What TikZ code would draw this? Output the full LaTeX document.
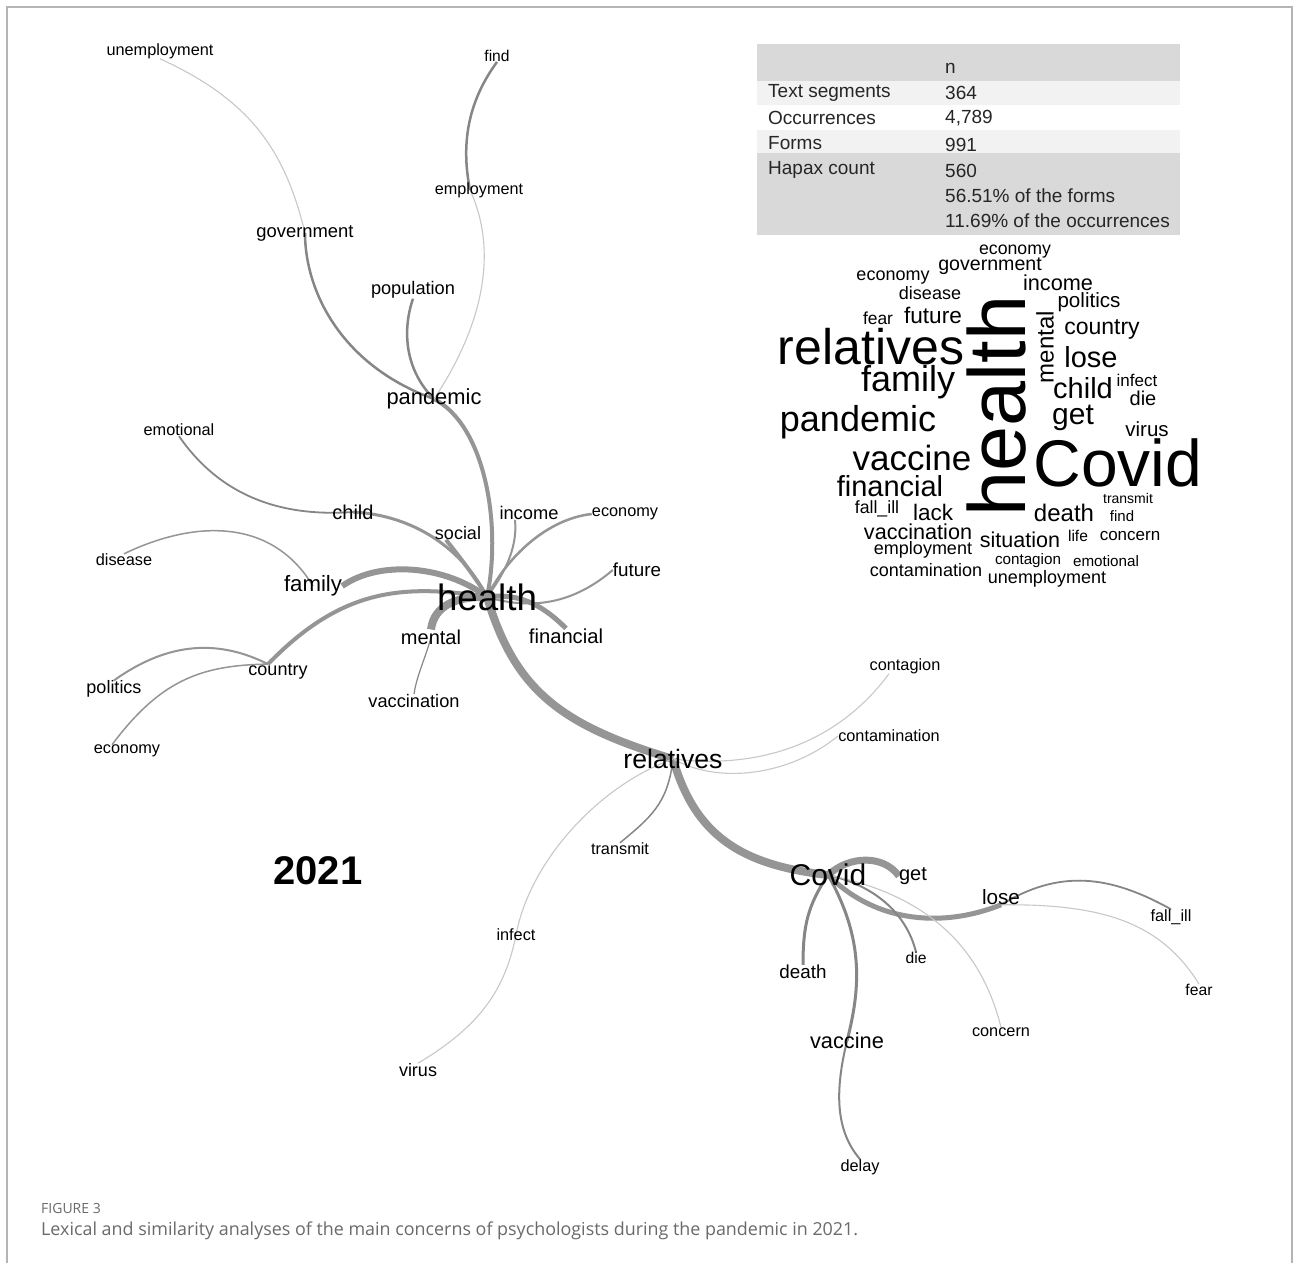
\documentclass[tikz,border=0pt]{standalone}
\usepackage{fontspec}
\setmainfont{Liberation Sans}
\newfontfamily\capfont{Open Sans}
\usetikzlibrary{backgrounds}
\definecolor{linkgray}{HTML}{959595}
\definecolor{linkdark}{HTML}{868686}
\definecolor{palegray}{HTML}{C8C8C8}
\definecolor{rowgray}{HTML}{D9D9D9}
\definecolor{rowlight}{HTML}{F2F2F2}
\definecolor{framegray}{HTML}{B4B4B4}
\definecolor{capgray}{HTML}{6A6A6A}
\newcommand\wsize[1]{\fontsize{#1}{#1}\selectfont}
\tikzset{
    %words of the tree and of the cloud
    word/.style={inner sep=0pt, font=\wsize{#1}},
    word/.default=16.3,
    cell/.style={inner sep=0pt, anchor=west, font=\wsize{19}, text=black!85},
    %links
    link/.style={draw=linkgray, line width=#1},
    link/.default=3pt,
    dim/.style={draw=linkdark, line width=#1},
    faint/.style={draw=palegray, line width=1.1pt}
}
\begin{document}
\begin{tikzpicture}[x=1pt,y=-1pt]
\useasboundingbox (0,0) rectangle (1293,1263);

% tree
\node[word] (unemp) at (160,51) {unemployment};
\node[word=15.6] (find) at (497,56) {find};
\node[word=16.2] (employ) at (479,190) {employment};
\node[word=18.4] (govt) at (305,233) {government};
\node[word=18.2] (popul) at (413,290) {population};
\node[word=21.9] (pandemic) at (434,399) {pandemic};
\node[word] (emot) at (179,430) {emotional};
\node[word=20] (child) at (353,512) {child};
\node[word=18] (social) at (458,533) {social};
\node[word=18.3] (income) at (529,513) {income};
\node[word] (econA) at (625,514) {economy};
\node[word] (disease) at (124,560) {disease};
\node[word=22.2] (family) at (313,586) {family};
\node[word=36.7] (health) at (487,597) {health};
\node[word=18.8] (future) at (637,570) {future};
\node[word=20] (mental) at (431,637) {mental};
\node[word=20.2] (financial) at (566,636) {financial};
\node[word=18] (country) at (278,672) {country};
\node[word=18] (politics) at (114,689) {politics};
\node[word=18.2] (vaccin) at (414,701) {vaccination};
\node[word] (econB) at (127,751) {economy};
\node[word] (contag) at (905,666) {contagion};
\node[word=26.6] (relatives) at (673,759) {relatives};
\node[word] (contam) at (889,736) {contamination};
\node[word] (transmit) at (620,849) {transmit};
\node[word=30] (covid) at (828,875) {Covid};
\node[word=20] (get) at (913,876) {get};
\node[word=20.7] (lose) at (1001,897) {lose};
\node[word] (fallill) at (1171,917) {fall\_ill};
\node[word] (infect) at (516,935) {infect};
\node[word=15.7] (die) at (916,958) {die};
\node[word=18.8] (death) at (803,972) {death};
\node[word=15.7] (fear) at (1199,990) {fear};
\node[word] (concern) at (1001,1032) {concern};
\node[word=21.8] (vaccine) at (847,1041) {vaccine};
\node[word=18] (virus) at (418,1070) {virus};
\node[word] (delay) at (860,1167) {delay};
\node[inner sep=0pt, font=\wsize{40}\bfseries] (year) at (318,871) {2021};

\begin{scope}[on background layer]
\fill[white] (0,0) rectangle (1293,1263);
% health
\draw[link=4pt] (pandemic.center) .. controls +(51,26) and +(15,-72) .. (health.center);
\draw[link=3pt] (child.center) .. controls +(57,3) and +(-27,-52) .. (health.center);
\draw[link=4pt] ([xshift=-12pt]social.south) .. controls +(12,15) and +(-8,-15) .. (health.center);
\draw[link=2pt] ([xshift=-14pt]income.south) .. controls +(3,30) and +(15,-20) .. (health.center);
\draw[link=2.5pt] (health.center) .. controls +(20,-40) and +(-45,5) .. (econA.west);
\draw[link=2pt] (health.center) .. controls +(50,15) and +(-35,30) .. (future.west);
\draw[link=5pt] (health.center) .. controls +(35,-5) and +(-20,-20) .. (financial.north);
\draw[link=6pt] (health.center) .. controls +(-42,-32) and +(37,-26) .. (family.east);
\draw[link=4pt] (health.center) .. controls +(-87,-14) and +(72,-74) .. ([xshift=-10pt]country.north);
\draw[link=8pt] (health.center) .. controls +(-30,-1) and +(3,-24) .. (mental.north);
\draw[link=8pt] (health.center) .. controls +(28,93) and +(-113,-34) .. (relatives.center);
\draw[dim=1.8pt] (child.center) .. controls +(-83,6) and +(36,52) .. (emot.south);
\draw[link=1.5pt] (family.center) .. controls +(-43,-71) and +(66,-32) .. (disease.north);
\draw[link=2pt] ([xshift=-10pt]country.north) .. controls +(-48,-24) and +(56,-40) .. (politics.north);
\draw[link=1.5pt] ([xshift=-10pt]country.north) .. controls +(-68,1) and +(48,-64) .. ([xshift=-15pt]econB.north);
\draw[dim=1.2pt] (mental.center) .. controls +(-5,20) and +(3,-20) .. (vaccin.north);
% pandemic
\draw[dim=2.5pt] (pandemic.center) .. controls +(-94,-34) and +(0,57) .. (govt.center);
\draw[faint] (govt.center) .. controls +(-20,-83) and +(90,41) .. (unemp.south);
\draw[dim=2.5pt] (pandemic.center) .. controls +(-29,-29) and +(-11,32) .. (popul.south);
\draw[faint] (pandemic.center) .. controls +(46,-69) and +(30,65) .. ([xshift=-9pt]employ.center);
\draw[dim=2.5pt] ([xshift=-9pt]employ.center) .. controls +(-10,-50) and +(-27,37) .. (find.south);
% relatives
\draw[link=8pt] (relatives.center) .. controls +(22,76) and +(-88,-10) .. (covid.center);
\draw[faint] (relatives.center) .. controls +(92,11) and +(-49,66) .. ([xshift=-16pt]contag.south);
\draw[faint] (relatives.center) .. controls +(47,26) and +(-48,39) .. (contam.west);
\draw[dim=1.5pt] (relatives.center) .. controls +(-5,45) and +(30,-25) .. (transmit.north);
\draw[faint] (relatives.center) .. controls +(-73,26) and +(14,-75) .. (infect.center);
\draw[faint] (infect.center) .. controls +(-11,55) and +(62,-37) .. (virus.north);
% Covid
\draw[link=7pt] (covid.center) .. controls +(22,-20) and +(-15,-21) .. (get.west);
\draw[link=5pt] (covid.center) .. controls +(50,50) and +(-55,22) .. (lose.south);
\draw[dim=1.8pt] (lose.south) .. controls +(59,-36) and +(-61,-34) .. (fallill.north);
\draw[faint] (lose.south) .. controls +(99,-1) and +(-39,-63) .. (fear.north);
\draw[dim=2pt] (covid.center) .. controls +(45,10) and +(-10,-40) .. (die.north);
\draw[faint] (covid.center) .. controls +(100,20) and +(-20,-80) .. (concern.north);
\draw[dim=3pt] (covid.center) .. controls +(-20,30) and +(0,-40) .. (death.north);
\draw[dim=3pt] (covid.center) .. controls +(37,65) and +(13,-51) .. (vaccine.center);
\draw[dim=2pt] (vaccine.center) .. controls +(-12,49) and +(-25,-29) .. (delay.north);
\end{scope}

% table
\fill[rowgray] (757,44) rectangle (1180,81);
\fill[rowlight] (757,81) rectangle (1180,105);
\fill[rowlight] (757,130) rectangle (1180,153);
\fill[rowgray] (757,153) rectangle (1180,235);
\node[cell] (hdn) at (945,68) {n};
\node[cell] (segA) at (768,93) {Text segments};
\node[cell] (segB) at (945,93) {364};
\node[cell] (occA) at (768,118) {Occurrences};
\node[cell] (occB) at (945,118) {4,789};
\node[cell] (formA) at (768,143) {Forms};
\node[cell] (formB) at (945,145) {991};
\node[cell] (hapA) at (768,170) {Hapax count};
\node[cell] (hapB) at (945,171) {560};
\node[cell] (hapC) at (945,196) {56.51\% of the forms};
\node[cell] (hapD) at (945,221) {11.69\% of the occurrences};

% word cloud
\node[word=17.7] (c-econA) at (1015,252) {economy};
\node[word=19.6] (c-govt) at (990,266) {government};
\node[word=18] (c-econB) at (893,278) {economy};
\node[word=21.7] (c-income) at (1058,283) {income};
\node[word=18] (c-disease) at (930,293) {disease};
\node[word=20.6] (c-politics) at (1089,302) {politics};
\node[word=17.4] (c-fear) at (878,318) {fear};
\node[word=22.6] (c-future) at (933,315) {future};
\node[word=24, rotate=90] (c-mental) at (1045,347) {mental};
\node[word=50] (c-relatives) at (871,347) {relatives};
\node[word=81, rotate=90] (c-health) at (997,406) {health};
\node[word=23] (c-country) at (1102,329) {country};
\node[word=29] (c-lose) at (1091,357) {lose};
\node[word=36] (c-family) at (908,382) {family};
\node[word=29] (c-child) at (1083,388) {child};
\node[word=17] (c-infect) at (1137,380) {infect};
\node[word=20] (c-die) at (1143,398) {die};
\node[word=36] (c-pandemic) at (858,422) {pandemic};
\node[word=30] (c-get) at (1073,418) {get};
\node[word=20.5] (c-virus) at (1147,429) {virus};
\node[word=35] (c-vaccine) at (912,458) {vaccine};
\node[word=66] (c-covid) at (1118,463) {Covid};
\node[word=29] (c-financial) at (890,486) {financial};
\node[word=14] (c-transmit) at (1128,498) {transmit};
\node[word=17.7] (c-fallill) at (877,509) {fall\_ill};
\node[word=22.5] (c-lack) at (933,512) {lack};
\node[word=24] (c-death) at (1064,513) {death};
\node[word=15] (c-find) at (1122,516) {find};
\node[word=21.6] (c-vaccin) at (918,532) {vaccination};
\node[word=21.5] (c-situation) at (1020,540) {situation};
\node[word=15.6] (c-life) at (1078,536) {life};
\node[word=17] (c-concern) at (1130,536) {concern};
\node[word=18] (c-employ) at (923,550) {employment};
\node[word=15.2] (c-contag) at (1028,561) {contagion};
\node[word=15.2] (c-emot) at (1106,561) {emotional};
\node[word=18] (c-contam) at (926,570) {contamination};
\node[word=18] (c-unemp) at (1047,579) {unemployment};

% frame and caption
\draw[framegray, line width=1.5pt] (7,1263) -- (7,7) -- (1292,7) -- (1292,1263);
\node[anchor=west, inner sep=0pt, font=\capfont\wsize{14}, text=capgray] (figno) at (41,1208) {FIGURE 3};
\node[anchor=west, inner sep=0pt, font=\capfont\wsize{17.9}, text=capgray] (caption) at (41,1231) {Lexical and similarity analyses of the main concerns of psychologists during the pandemic in 2021.};
\end{tikzpicture}
\end{document}
